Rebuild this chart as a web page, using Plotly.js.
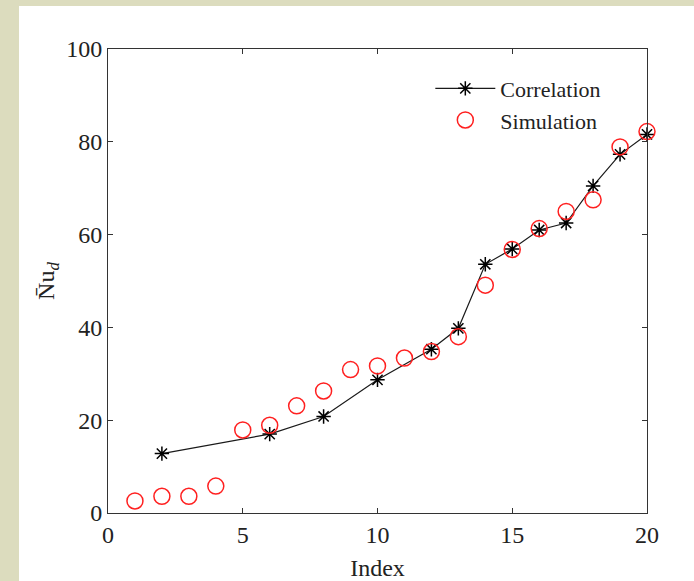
<!DOCTYPE html>
<html>
<head>
<meta charset="utf-8">
<script src="https://cdn.plot.ly/plotly-3.0.1.min.js"></script>
<style>
  html, body { margin: 0; padding: 0; width: 694px; height: 581px; background: #dcdcbe; overflow: hidden; }
  #frame { position: absolute; left: 19px; top: 6px; width: 675px; height: 575px; background: #ffffff; }
  #chart { width: 675px; height: 575px; }
</style>
</head>
<body>
<div id="frame"><div id="chart"></div></div>
<script>
// Correlation series
const corrX = [2, 6, 8, 10, 12, 13, 14, 15, 16, 17, 18, 19, 20];
const corrY = [12.8, 17.0, 20.8, 28.7, 35.3, 39.8, 53.6, 56.9, 61.0, 62.5, 70.5, 77.3, 81.6];
// Simulation series
const simX = [1, 2, 3, 4, 5, 6, 7, 8, 9, 10, 11, 12, 13, 14, 15, 16, 17, 18, 19, 20];
const simY = [2.6, 3.6, 3.6, 5.8, 17.9, 18.9, 23.1, 26.3, 30.9, 31.7, 33.4, 34.8, 38.0, 49.1, 56.8, 61.3, 65.0, 67.5, 78.9, 82.2];
// Axis ticks
const xTicks = [0, 5, 10, 15, 20];
const yTicks = [0, 20, 40, 60, 80, 100];

const fontFam = '"Liberation Serif", "Times New Roman", serif';

const traces = [
  {
    x: corrX, y: corrY, name: 'Correlation', type: 'scatter', mode: 'lines+markers',
    cliponaxis: false,
    line: {color: '#1a1a1a', width: 1.2},
    marker: {symbol: 'asterisk-open', size: 12, color: '#000000', line: {color: '#000000', width: 1.5}}
  },
  {
    x: simX, y: simY, name: 'Simulation', type: 'scatter', mode: 'markers',
    cliponaxis: false,
    marker: {symbol: 'circle-open', size: 16, color: '#ff2020', line: {color: '#ff2020', width: 1.5}}
  }
];

const axisCommon = {
  showgrid: false, zeroline: false, showline: true, linecolor: '#333333', linewidth: 1,
  mirror: 'ticks', ticks: 'inside', ticklen: 5, tickcolor: '#333333', tickwidth: 1,
  tickfont: {family: fontFam, size: 24, color: '#222222'}
};

const layout = {
  width: 675, height: 575,
  margin: {l: 89, r: 47, t: 43, b: 68},
  paper_bgcolor: '#ffffff', plot_bgcolor: '#ffffff',
  showlegend: true,
  legend: {
    x: 0.598, y: 0.96, xanchor: 'left', yanchor: 'top',
    bgcolor: 'rgba(0,0,0,0)', borderwidth: 0,
    font: {family: fontFam, size: 22, color: '#222222'},
    itemwidth: 60, tracegroupgap: 0
  },
  xaxis: Object.assign({}, axisCommon, {
    range: [0, 20], tickvals: xTicks, ticktext: xTicks.map(String),
    title: {text: 'Index', font: {family: fontFam, size: 24, color: '#222222'}, standoff: 12}
  }),
  yaxis: Object.assign({}, axisCommon, {
    range: [0, 100], tickvals: yTicks, ticktext: yTicks.map(String),
    title: {text: 'N\u0304u<sub><i>d</i></sub>', font: {family: fontFam, size: 24, color: '#222222'}, standoff: 4}
  })
};

Plotly.newPlot('chart', traces, layout, {displayModeBar: false, staticPlot: true});
</script>
</body>
</html>
